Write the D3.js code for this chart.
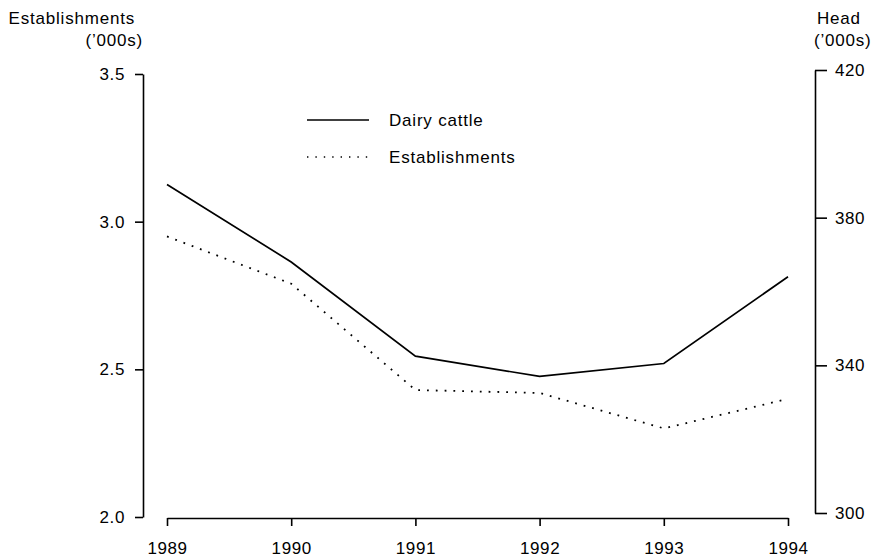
<!DOCTYPE html>
<html>
<head>
<meta charset="utf-8">
<script src="https://cdn.jsdelivr.net/npm/d3@7"></script>
<style>
  body { margin: 0; background: #fff; }
  svg { display: block; font-family: "Liberation Sans", Arial, sans-serif; }
  .axis path, .axis line { stroke: #000; stroke-width: 1.6; }
  .axis text { font-size: 17px; fill: #000; letter-spacing: 0.6px; }
  .lbl { font-size: 17px; letter-spacing: 0.8px; }
</style>
</head>
<body>
<svg width="883" height="557"></svg>
<script>
(function () {
    'use strict';

    // data
    const years = [1989, 1990, 1991, 1992, 1993, 1994];
    const dairyCattle = [389, 368, 342.5, 337, 340.5, 364];     // head ('000s), right axis
    const establishments = [2.95, 2.79, 2.43, 2.42, 2.30, 2.40]; // ('000s), left axis
    const leftTicks = [2.0, 2.5, 3.0, 3.5];
    const rightTicks = [300, 340, 380, 420];

    const svg = d3.select('svg');

    const x = d3.scaleLinear()
        .domain([1989, 1994])
        .range([167, 788]);

    const yLeft = d3.scaleLinear()
        .domain([2.0, 3.5])
        .range([517, 74]);

    const yRight = d3.scaleLinear()
        .domain([300, 420])
        .range([513, 70]);

    // axes
    svg.append('g')
        .attr('class', 'axis')
        .attr('transform', 'translate(143,0)')
        .call(d3.axisLeft(yLeft).tickValues(leftTicks).tickFormat(d3.format('.1f'))
            .tickSizeOuter(0).tickSizeInner(8).tickPadding(10));

    svg.append('g')
        .attr('class', 'axis')
        .attr('transform', 'translate(815,0)')
        .call(d3.axisRight(yRight).tickValues(rightTicks).tickFormat(d3.format('d'))
            .tickSizeOuter(0).tickSizeInner(12).tickPadding(8));

    svg.append('g')
        .attr('class', 'axis')
        .attr('transform', 'translate(0,518)')
        .call(d3.axisBottom(x).tickValues(years).tickFormat(d3.format('d'))
            .tickSizeOuter(0).tickSizeInner(8).tickPadding(16));

    // axis titles
    const title = (tx, ty, anchor, txt) => svg.append('text')
        .attr('class', 'lbl')
        .attr('x', tx).attr('y', ty)
        .attr('text-anchor', anchor)
        .text(txt);
    title(135, 24, 'end', 'Establishments');
    title(143, 46, 'end', '(\u2019000s)');
    title(817, 24, 'start', 'Head');
    title(814, 46, 'start', '(\u2019000s)');

    // lines
    const lineCattle = d3.line()
        .x((d, i) => x(years[i]))
        .y(d => yRight(d));
    const lineEst = d3.line()
        .x((d, i) => x(years[i]))
        .y(d => yLeft(d));

    svg.append('path')
        .datum(dairyCattle)
        .attr('fill', 'none')
        .attr('stroke', '#000')
        .attr('stroke-width', 1.7)
        .attr('d', lineCattle);

    svg.append('path')
        .datum(establishments)
        .attr('fill', 'none')
        .attr('stroke', '#000')
        .attr('stroke-width', 1.8)
        .attr('stroke-dasharray', '1.8,7')
        .attr('d', lineEst);

    // legend
    const legend = svg.append('g');
    legend.append('line')
        .attr('x1', 307).attr('x2', 369).attr('y1', 120).attr('y2', 120)
        .attr('stroke', '#000').attr('stroke-width', 1.4);
    legend.append('text')
        .attr('class', 'lbl')
        .attr('x', 389).attr('y', 126)
        .text('Dairy cattle');
    legend.append('line')
        .attr('x1', 307).attr('x2', 370).attr('y1', 157).attr('y2', 157)
        .attr('stroke', '#000').attr('stroke-width', 1.4)
        .attr('stroke-dasharray', '1.4,7');
    legend.append('text')
        .attr('class', 'lbl')
        .attr('x', 389).attr('y', 163)
        .text('Establishments');
})();
</script>
</body>
</html>
